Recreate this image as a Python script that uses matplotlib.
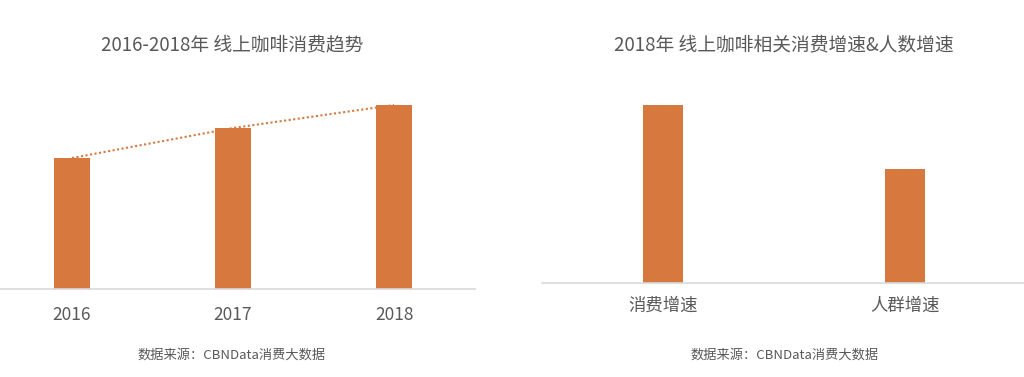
import matplotlib
matplotlib.use("Agg")
import matplotlib.pyplot as plt

plt.rcParams["font.family"] = ["Noto Sans CJK SC", "DejaVu Sans"]

# left panel: online coffee spending trend (relative, no axis shown)
years = ["2016", "2017", "2018"]
spend = [131, 161, 184]

# right panel: 2018 growth of spending vs. number of people
growth_labels = ["消费增速", "人群增速"]
growth = [178, 114]

BAR = "#D7783F"
GREY_TEXT = "#595959"
BASE = "#D9D9D9"

W, H = 1024, 377
fig = plt.figure(figsize=(W / 100, H / 100), dpi=100)


def px_axes(x0, x1, ybase, ytop):
    return fig.add_axes([x0 / W, (H - ybase) / H, (x1 - x0) / W, (ybase - ytop) / H])


def clean(ax):
    for s in ["top", "right", "left"]:
        ax.spines[s].set_visible(False)
    ax.spines["bottom"].set_color(BASE)
    ax.spines["bottom"].set_linewidth(1.2)
    ax.set_yticks([])
    ax.tick_params(axis="x", length=0, colors=GREY_TEXT, labelsize=12.5, pad=12)


# left
ax1 = px_axes(0, 475, 289, 60)
x1 = list(range(len(years)))
ax1.bar(x1, spend, width=0.225, color=BAR, zorder=2)
ax1.plot(x1, spend, linestyle=(0, (1, 1.2)), color=BAR, linewidth=1.5, zorder=3)
ax1.set_xlim(-0.447, 2.503)
ax1.set_ylim(0, 184 * (289 - 60) / (289 - 105))
ax1.set_xticks(x1)
ax1.set_xticklabels(years)
clean(ax1)

# right
ax2 = px_axes(542, 1024, 283, 60)
x2 = list(range(len(growth_labels)))
ax2.bar(x2, growth, width=0.165, color=BAR, zorder=2)
ax2.set_xlim(-0.5, 1.49)
ax2.set_ylim(0, 178 * (283 - 60) / (283 - 105))
ax2.set_xticks(x2)
ax2.set_xticklabels(growth_labels)
clean(ax2)
ax2.tick_params(axis="x", pad=10)

# titles and sources
fig.text(232 / W, 1 - 45 / H, "2016-2018年 线上咖啡消费趋势", ha="center", va="center",
         fontsize=13.5, color=GREY_TEXT)
fig.text(784 / W, 1 - 45 / H, "2018年 线上咖啡相关消费增速&人数增速", ha="center", va="center",
         fontsize=13.5, color=GREY_TEXT)
fig.text(232 / W, 1 - 355 / H, "数据来源：CBNData消费大数据", ha="center", va="center",
         fontsize=9.5, color=GREY_TEXT)
fig.text(785 / W, 1 - 355 / H, "数据来源：CBNData消费大数据", ha="center", va="center",
         fontsize=9.5, color=GREY_TEXT)

fig.savefig("out.png", dpi=100, facecolor="white")
